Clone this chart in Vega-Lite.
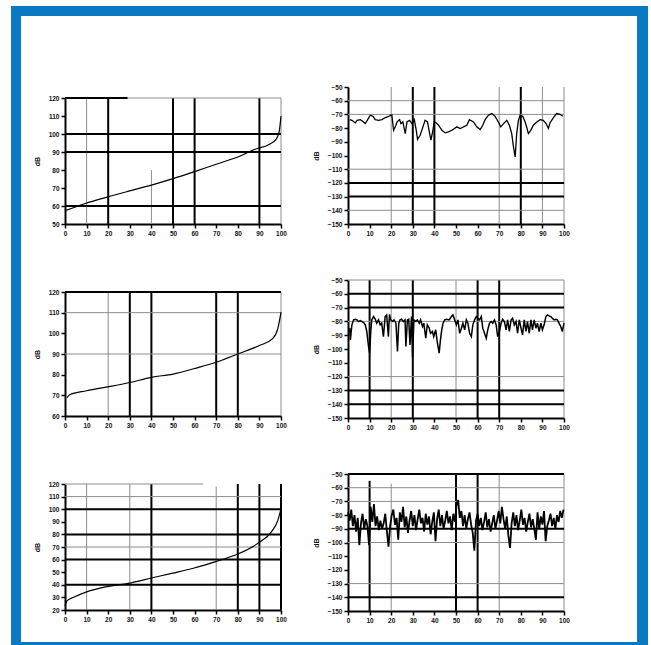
{
"$schema": "https://vega.github.io/schema/vega-lite/v6.json",
"background": "white",
"padding": {"left": 11, "top": 6, "right": 3, "bottom": 0},
"spacing": 0,
"hconcat": [
 {"width": 10, "height": 639, "data": {"values": []}, "mark": "rect", "view": {"fill": "#0a78c2", "stroke": null}},
 {"spacing": 0, "vconcat": [
  {"width": 616, "height": 10, "data": {"values": []}, "mark": "rect", "view": {"fill": "#0a78c2", "stroke": null}},
  {"spacing": 11, "hconcat": [
   {"width": 1, "height": 626, "data": {"values": []}, "mark": "rect"},
   {"spacing": 52, "vconcat": [
    {"width": 1, "height": 27, "data": {"values": []}, "mark": "rect"},
    {"width": 216, "height": 126,
     "encoding": {
      "x": {"field": "x", "type": "quantitative", "scale": {"domain": [0, 100], "nice": false, "zero": false}, "axis": {"values": [0,10,20,30,40,50,60,70,80,90,100], "title": null, "labelFlush": false, "labelOverlap": false}},
      "y": {"field": "y", "type": "quantitative", "scale": {"domain": [50, 120], "nice": false, "zero": false}, "axis": {"values": [50,60,70,80,90,100,110,120], "title": "dB", "labelOverlap": false}}
     },
     "layer": [
      {"data": {"values": [
        {"x": 10, "y": 50, "y2": 120, "kind": "minor"},
        {"x": 20, "y": 50, "y2": 120, "kind": "major"},
        {"x": 40, "y": 50, "y2": 80, "kind": "minor"},
        {"x": 50, "y": 50, "y2": 120, "kind": "major"},
        {"x": 60, "y": 50, "y2": 120, "kind": "major"},
        {"x": 90, "y": 50, "y2": 120, "kind": "major"},
        {"x": 100, "y": 50, "y2": 120, "kind": "minor"}]},
       "mark": "rule",
       "encoding": {"y2": {"field": "y2"},
        "color": {"field": "kind", "type": "nominal", "scale": {"domain": ["major", "minor"], "range": ["#000000", "#8c8c8c"]}, "legend": null},
        "strokeWidth": {"field": "kind", "type": "ordinal", "scale": {"domain": ["major", "minor"], "range": [2, 1]}, "legend": null}}},
      {"data": {"values": [
        {"y": 120, "x": 0, "x2": 29, "kind": "major"},
        {"y": 120, "x": 29, "x2": 100, "kind": "minor"},
        {"y": 100, "x": 0, "x2": 100, "kind": "major"},
        {"y": 90, "x": 0, "x2": 100, "kind": "major"},
        {"y": 60, "x": 0, "x2": 100, "kind": "major"}]},
       "mark": "rule",
       "encoding": {"x2": {"field": "x2"},
        "color": {"field": "kind", "type": "nominal", "scale": {"domain": ["major", "minor"], "range": ["#000000", "#8c8c8c"]}, "legend": null},
        "strokeWidth": {"field": "kind", "type": "ordinal", "scale": {"domain": ["major", "minor"], "range": [2, 1]}, "legend": null}}},
      {"data": {"values": [
        {"x": 0, "y": 57.4}, {"x": 9.4, "y": 61.4}, {"x": 19, "y": 64.8}, {"x": 29, "y": 68.1}, {"x": 40, "y": 71.6},
        {"x": 50, "y": 75.2}, {"x": 60, "y": 79.1}, {"x": 70, "y": 83.2}, {"x": 80, "y": 87.2}, {"x": 88, "y": 91.5},
        {"x": 94.5, "y": 94.2}, {"x": 97.7, "y": 97.0}, {"x": 99.2, "y": 101.6}, {"x": 100, "y": 109.9}]},
       "mark": {"type": "line", "color": "#000000", "strokeWidth": 1.2, "interpolate": "monotone"}}
     ]},
    {"width": 216, "height": 124,
     "encoding": {
      "x": {"field": "x", "type": "quantitative", "scale": {"domain": [0, 100], "nice": false, "zero": false}, "axis": {"values": [0,10,20,30,40,50,60,70,80,90,100], "title": null, "labelFlush": false, "labelOverlap": false}},
      "y": {"field": "y", "type": "quantitative", "scale": {"domain": [60, 120], "nice": false, "zero": false}, "axis": {"values": [60,70,80,90,100,110,120], "title": "dB", "labelOverlap": false}}
     },
     "layer": [
      {"data": {"values": [
        {"x": 20, "y": 60, "y2": 120, "kind": "minor"},
        {"x": 30, "y": 60, "y2": 120, "kind": "major"},
        {"x": 40, "y": 60, "y2": 120, "kind": "major"},
        {"x": 70, "y": 60, "y2": 120, "kind": "major"},
        {"x": 80, "y": 60, "y2": 120, "kind": "major"},
        {"x": 100, "y": 60, "y2": 120, "kind": "minor"}]},
       "mark": "rule",
       "encoding": {"y2": {"field": "y2"},
        "color": {"field": "kind", "type": "nominal", "scale": {"domain": ["major", "minor"], "range": ["#000000", "#8c8c8c"]}, "legend": null},
        "strokeWidth": {"field": "kind", "type": "ordinal", "scale": {"domain": ["major", "minor"], "range": [2, 1]}, "legend": null}}},
      {"data": {"values": [
        {"y": 120, "x": 0, "x2": 100, "kind": "major"},
        {"y": 110, "x": 0, "x2": 100, "kind": "minor"},
        {"y": 90, "x": 0, "x2": 100, "kind": "minor"}]},
       "mark": "rule",
       "encoding": {"x2": {"field": "x2"},
        "color": {"field": "kind", "type": "nominal", "scale": {"domain": ["major", "minor"], "range": ["#000000", "#8c8c8c"]}, "legend": null},
        "strokeWidth": {"field": "kind", "type": "ordinal", "scale": {"domain": ["major", "minor"], "range": [2, 1]}, "legend": null}}},
      {"data": {"values": [
        {"x": 1, "y": 68.9}, {"x": 2, "y": 70.2}, {"x": 10, "y": 72.2}, {"x": 21, "y": 74.3}, {"x": 30, "y": 76.2},
        {"x": 40, "y": 78.7}, {"x": 50, "y": 80.3}, {"x": 60, "y": 83.0}, {"x": 70, "y": 86.0}, {"x": 80, "y": 90.0},
        {"x": 90, "y": 94.1}, {"x": 96, "y": 97.3}, {"x": 98.5, "y": 102.2}, {"x": 100, "y": 110.3}]},
       "mark": {"type": "line", "color": "#000000", "strokeWidth": 1.2, "interpolate": "monotone"}}
     ]},
    {"width": 216, "height": 126,
     "encoding": {
      "x": {"field": "x", "type": "quantitative", "scale": {"domain": [0, 100], "nice": false, "zero": false}, "axis": {"values": [0,10,20,30,40,50,60,70,80,90,100], "title": null, "labelFlush": false, "labelOverlap": false}},
      "y": {"field": "y", "type": "quantitative", "scale": {"domain": [20, 120], "nice": false, "zero": false}, "axis": {"values": [20,30,40,50,60,70,80,90,100,110,120], "title": "dB", "labelOverlap": false}}
     },
     "layer": [
      {"data": {"values": [
        {"x": 10, "y": 20, "y2": 120, "kind": "minor"},
        {"x": 30, "y": 20, "y2": 120, "kind": "minor"},
        {"x": 40, "y": 20, "y2": 120, "kind": "major"},
        {"x": 70, "y": 20, "y2": 118, "kind": "minor"},
        {"x": 80, "y": 20, "y2": 120, "kind": "major"},
        {"x": 90, "y": 20, "y2": 120, "kind": "major"},
        {"x": 100, "y": 20, "y2": 120, "kind": "major"}]},
       "mark": "rule",
       "encoding": {"y2": {"field": "y2"},
        "color": {"field": "kind", "type": "nominal", "scale": {"domain": ["major", "minor"], "range": ["#000000", "#8c8c8c"]}, "legend": null},
        "strokeWidth": {"field": "kind", "type": "ordinal", "scale": {"domain": ["major", "minor"], "range": [2, 1]}, "legend": null}}},
      {"data": {"values": [
        {"y": 120, "x": 0, "x2": 64, "kind": "minor"},
        {"y": 110, "x": 0, "x2": 100, "kind": "minor"},
        {"y": 100, "x": 0, "x2": 100, "kind": "major"},
        {"y": 80, "x": 0, "x2": 100, "kind": "major"},
        {"y": 70, "x": 0, "x2": 100, "kind": "minor"},
        {"y": 60, "x": 0, "x2": 100, "kind": "major"},
        {"y": 40, "x": 0, "x2": 100, "kind": "major"}]},
       "mark": "rule",
       "encoding": {"x2": {"field": "x2"},
        "color": {"field": "kind", "type": "nominal", "scale": {"domain": ["major", "minor"], "range": ["#000000", "#8c8c8c"]}, "legend": null},
        "strokeWidth": {"field": "kind", "type": "ordinal", "scale": {"domain": ["major", "minor"], "range": [2, 1]}, "legend": null}}},
      {"data": {"values": [
        {"x": 0, "y": 23.4}, {"x": 1, "y": 27.4}, {"x": 4, "y": 30.1}, {"x": 9.4, "y": 34.0}, {"x": 19.3, "y": 38.5},
        {"x": 29.3, "y": 41.2}, {"x": 40, "y": 45.4}, {"x": 49.4, "y": 49.1}, {"x": 59.4, "y": 53.1}, {"x": 70.1, "y": 58.6},
        {"x": 80, "y": 64.4}, {"x": 90, "y": 73.7}, {"x": 95.4, "y": 81.6}, {"x": 98.5, "y": 90.9}, {"x": 100, "y": 100.2}]},
       "mark": {"type": "line", "color": "#000000", "strokeWidth": 1.2, "interpolate": "monotone"}}
     ]}
   ]},
   {"width": 3, "height": 10, "data": {"values": []}, "mark": "rect"},
   {"spacing": 40, "vconcat": [
    {"width": 1, "height": 28, "data": {"values": []}, "mark": "rect"},
    {"width": 216, "height": 137,
     "encoding": {
      "x": {"field": "x", "type": "quantitative", "scale": {"domain": [0, 100], "nice": false, "zero": false}, "axis": {"values": [0,10,20,30,40,50,60,70,80,90,100], "title": null, "labelFlush": false, "labelOverlap": false}},
      "y": {"field": "y", "type": "quantitative", "scale": {"domain": [-150, -50], "nice": false, "zero": false}, "axis": {"values": [-150,-140,-130,-120,-110,-100,-90,-80,-70,-60,-50], "title": "dB", "labelOverlap": false}}
     },
     "layer": [
      {"data": {"values": [
        {"x": 20, "y": -150, "y2": -50, "kind": "minor"},
        {"x": 30, "y": -150, "y2": -50, "kind": "major"},
        {"x": 40, "y": -150, "y2": -50, "kind": "major"},
        {"x": 70, "y": -150, "y2": -50, "kind": "minor"},
        {"x": 80, "y": -150, "y2": -50, "kind": "major"},
        {"x": 90, "y": -150, "y2": -50, "kind": "minor"},
        {"x": 100, "y": -150, "y2": -50, "kind": "minor"}]},
       "mark": "rule",
       "encoding": {"y2": {"field": "y2"},
        "color": {"field": "kind", "type": "nominal", "scale": {"domain": ["major", "minor"], "range": ["#000000", "#8c8c8c"]}, "legend": null},
        "strokeWidth": {"field": "kind", "type": "ordinal", "scale": {"domain": ["major", "minor"], "range": [2, 1]}, "legend": null}}},
      {"data": {"values": [
        {"y": -60, "x": 0, "x2": 100, "kind": "minor"},
        {"y": -70, "x": 0, "x2": 100, "kind": "minor"},
        {"y": -110, "x": 0, "x2": 100, "kind": "minor"},
        {"y": -120, "x": 0, "x2": 100, "kind": "major"},
        {"y": -130, "x": 0, "x2": 100, "kind": "major"},
        {"y": -140, "x": 0, "x2": 100, "kind": "minor"}]},
       "mark": "rule",
       "encoding": {"x2": {"field": "x2"},
        "color": {"field": "kind", "type": "nominal", "scale": {"domain": ["major", "minor"], "range": ["#000000", "#8c8c8c"]}, "legend": null},
        "strokeWidth": {"field": "kind", "type": "ordinal", "scale": {"domain": ["major", "minor"], "range": [2, 1]}, "legend": null}}},
      {"data": {"values": [
        {"x": 0.8, "y": -73.8}, {"x": 1.8, "y": -74.3}, {"x": 3.4, "y": -76.2}, {"x": 4.2, "y": -74.3}, {"x": 5.7, "y": -73.8},
        {"x": 7.2, "y": -75.5}, {"x": 8.0, "y": -76.7}, {"x": 9.1, "y": -73.8}, {"x": 10.3, "y": -70.6}, {"x": 11.6, "y": -71.4},
        {"x": 12.6, "y": -73.8}, {"x": 14.2, "y": -74.3}, {"x": 15.7, "y": -73.8}, {"x": 17.3, "y": -72.3}, {"x": 18.8, "y": -71.4},
        {"x": 20.3, "y": -70.4}, {"x": 21.1, "y": -81.6}, {"x": 21.9, "y": -79.1}, {"x": 22.7, "y": -75.5}, {"x": 23.9, "y": -73.8},
        {"x": 24.5, "y": -76.7}, {"x": 25.4, "y": -75.5}, {"x": 26.5, "y": -84.0}, {"x": 27.3, "y": -75.5}, {"x": 28.5, "y": -74.3},
        {"x": 29.6, "y": -76.7}, {"x": 30.7, "y": -73.8}, {"x": 31.6, "y": -81.6}, {"x": 32.2, "y": -88.3}, {"x": 33.4, "y": -85.2},
        {"x": 34.7, "y": -79.1}, {"x": 35.7, "y": -74.3}, {"x": 36.8, "y": -75.5}, {"x": 37.8, "y": -84.0}, {"x": 38.4, "y": -88.8},
        {"x": 39.3, "y": -81.6}, {"x": 39.9, "y": -75.5}, {"x": 40.8, "y": -76.2}, {"x": 41.9, "y": -77.9}, {"x": 43.5, "y": -81.6},
        {"x": 45.0, "y": -83.5}, {"x": 46.5, "y": -82.8}, {"x": 48.1, "y": -81.6}, {"x": 50.4, "y": -79.1}, {"x": 51.9, "y": -80.3},
        {"x": 53.5, "y": -79.1}, {"x": 55.0, "y": -77.9}, {"x": 56.2, "y": -73.8}, {"x": 58.1, "y": -75.5}, {"x": 59.6, "y": -79.1},
        {"x": 61.2, "y": -81.1}, {"x": 62.4, "y": -77.9}, {"x": 63.5, "y": -73.8}, {"x": 65.0, "y": -70.6}, {"x": 66.6, "y": -69.4},
        {"x": 68.1, "y": -71.4}, {"x": 69.6, "y": -75.5}, {"x": 70.7, "y": -79.1}, {"x": 72.0, "y": -76.7}, {"x": 73.5, "y": -74.3},
        {"x": 74.7, "y": -77.9}, {"x": 75.8, "y": -84.0}, {"x": 76.6, "y": -93.7}, {"x": 77.4, "y": -101.0}, {"x": 78.1, "y": -84.0},
        {"x": 78.9, "y": -74.3}, {"x": 79.7, "y": -70.6}, {"x": 80.9, "y": -71.4}, {"x": 82.0, "y": -75.5}, {"x": 82.7, "y": -79.1},
        {"x": 83.5, "y": -84.0}, {"x": 84.6, "y": -81.6}, {"x": 85.8, "y": -77.9}, {"x": 87.4, "y": -75.5}, {"x": 88.9, "y": -73.8},
        {"x": 90.4, "y": -74.3}, {"x": 91.7, "y": -76.7}, {"x": 92.8, "y": -80.3}, {"x": 93.5, "y": -76.2}, {"x": 95.1, "y": -72.3},
        {"x": 96.6, "y": -69.4}, {"x": 98.2, "y": -69.9}, {"x": 99.4, "y": -71.4}]},
       "mark": {"type": "line", "color": "#000000", "strokeWidth": 1.3}}
     ]},
    {"width": 216, "height": 138,
     "encoding": {
      "x": {"field": "x", "type": "quantitative", "scale": {"domain": [0, 100], "nice": false, "zero": false}, "axis": {"values": [0,10,20,30,40,50,60,70,80,90,100], "title": null, "labelFlush": false, "labelOverlap": false}},
      "y": {"field": "y", "type": "quantitative", "scale": {"domain": [-150, -50], "nice": false, "zero": false}, "axis": {"values": [-150,-140,-130,-120,-110,-100,-90,-80,-70,-60,-50], "title": "dB", "labelOverlap": false}}
     },
     "layer": [
      {"data": {"values": [
        {"x": 10, "y": -150, "y2": -50, "kind": "major"},
        {"x": 20, "y": -150, "y2": -50, "kind": "minor"},
        {"x": 30, "y": -150, "y2": -50, "kind": "major"},
        {"x": 50, "y": -150, "y2": -50, "kind": "minor"},
        {"x": 60, "y": -150, "y2": -50, "kind": "major"},
        {"x": 70, "y": -150, "y2": -50, "kind": "major"},
        {"x": 100, "y": -150, "y2": -50, "kind": "minor"}]},
       "mark": "rule",
       "encoding": {"y2": {"field": "y2"},
        "color": {"field": "kind", "type": "nominal", "scale": {"domain": ["major", "minor"], "range": ["#000000", "#8c8c8c"]}, "legend": null},
        "strokeWidth": {"field": "kind", "type": "ordinal", "scale": {"domain": ["major", "minor"], "range": [2, 1]}, "legend": null}}},
      {"data": {"values": [
        {"y": -50, "x": 0, "x2": 100, "kind": "minor"},
        {"y": -60, "x": 0, "x2": 100, "kind": "major"},
        {"y": -70, "x": 0, "x2": 100, "kind": "major"},
        {"y": -80, "x": 0, "x2": 100, "kind": "minor"},
        {"y": -120, "x": 0, "x2": 100, "kind": "minor"},
        {"y": -130, "x": 0, "x2": 100, "kind": "major"},
        {"y": -140, "x": 0, "x2": 100, "kind": "major"}]},
       "mark": "rule",
       "encoding": {"x2": {"field": "x2"},
        "color": {"field": "kind", "type": "nominal", "scale": {"domain": ["major", "minor"], "range": ["#000000", "#8c8c8c"]}, "legend": null},
        "strokeWidth": {"field": "kind", "type": "ordinal", "scale": {"domain": ["major", "minor"], "range": [2, 1]}, "legend": null}}},
      {"data": {"values": [
        {"x": 0.8, "y": -84.9}, {"x": 1.1, "y": -93.4}, {"x": 1.8, "y": -82.5}, {"x": 2.6, "y": -78.9}, {"x": 3.4, "y": -78.4},
        {"x": 4.1, "y": -78.9}, {"x": 4.9, "y": -80.1}, {"x": 5.7, "y": -79.4}, {"x": 7.2, "y": -80.8}, {"x": 8.0, "y": -82.5},
        {"x": 8.7, "y": -87.3}, {"x": 9.5, "y": -98.2}, {"x": 10.0, "y": -103.0}, {"x": 10.6, "y": -86.1}, {"x": 11.0, "y": -78.9},
        {"x": 11.8, "y": -76.5}, {"x": 12.6, "y": -78.4}, {"x": 13.3, "y": -81.3}, {"x": 14.1, "y": -78.9}, {"x": 14.9, "y": -82.5},
        {"x": 15.6, "y": -81.3}, {"x": 16.4, "y": -91.0}, {"x": 17.2, "y": -76.5}, {"x": 17.9, "y": -75.3}, {"x": 18.7, "y": -91.0},
        {"x": 19.2, "y": -75.0}, {"x": 19.8, "y": -78.9}, {"x": 20.7, "y": -80.1}, {"x": 21.3, "y": -78.9}, {"x": 22.2, "y": -81.3},
        {"x": 22.9, "y": -101.8}, {"x": 23.5, "y": -81.3}, {"x": 24.1, "y": -78.9}, {"x": 24.8, "y": -78.4}, {"x": 25.6, "y": -80.1},
        {"x": 26.4, "y": -78.9}, {"x": 26.8, "y": -98.2}, {"x": 27.5, "y": -78.9}, {"x": 28.1, "y": -78.4}, {"x": 28.7, "y": -97.0},
        {"x": 29.4, "y": -76.5}, {"x": 29.9, "y": -105.9}, {"x": 30.5, "y": -78.9}, {"x": 31.4, "y": -80.1}, {"x": 32.1, "y": -78.9},
        {"x": 33.0, "y": -81.3}, {"x": 33.6, "y": -78.9}, {"x": 34.5, "y": -83.7}, {"x": 35.1, "y": -81.3}, {"x": 36.0, "y": -92.2},
        {"x": 36.7, "y": -82.5}, {"x": 37.6, "y": -84.9}, {"x": 38.2, "y": -88.6}, {"x": 39.1, "y": -87.3}, {"x": 39.7, "y": -91.0},
        {"x": 40.6, "y": -86.1}, {"x": 41.3, "y": -94.6}, {"x": 42.2, "y": -103.0}, {"x": 42.8, "y": -93.4}, {"x": 43.4, "y": -86.1},
        {"x": 44.0, "y": -81.3}, {"x": 44.8, "y": -78.9}, {"x": 45.6, "y": -78.4}, {"x": 46.8, "y": -78.9}, {"x": 47.9, "y": -76.5},
        {"x": 48.6, "y": -75.3}, {"x": 49.4, "y": -78.9}, {"x": 50.2, "y": -82.5}, {"x": 50.9, "y": -78.9}, {"x": 51.7, "y": -88.6},
        {"x": 52.5, "y": -84.9}, {"x": 53.2, "y": -81.3}, {"x": 54.0, "y": -86.1}, {"x": 54.8, "y": -78.9}, {"x": 55.5, "y": -81.3},
        {"x": 56.3, "y": -88.6}, {"x": 57.1, "y": -91.0}, {"x": 57.8, "y": -82.5}, {"x": 58.6, "y": -78.9}, {"x": 59.4, "y": -76.5},
        {"x": 60.1, "y": -77.7}, {"x": 60.9, "y": -78.9}, {"x": 61.7, "y": -76.5}, {"x": 62.4, "y": -84.9}, {"x": 63.2, "y": -88.6},
        {"x": 64.0, "y": -92.2}, {"x": 64.7, "y": -86.1}, {"x": 65.5, "y": -81.3}, {"x": 66.3, "y": -80.1}, {"x": 67.0, "y": -81.3},
        {"x": 67.8, "y": -78.9}, {"x": 68.6, "y": -82.5}, {"x": 69.3, "y": -91.0}, {"x": 70.1, "y": -87.3}, {"x": 70.9, "y": -81.3},
        {"x": 71.6, "y": -78.4}, {"x": 72.4, "y": -80.1}, {"x": 73.2, "y": -86.1}, {"x": 73.9, "y": -78.9}, {"x": 74.7, "y": -87.3},
        {"x": 75.5, "y": -78.9}, {"x": 76.2, "y": -77.7}, {"x": 77.0, "y": -82.5}, {"x": 77.8, "y": -80.1}, {"x": 78.5, "y": -88.6},
        {"x": 79.3, "y": -78.9}, {"x": 80.1, "y": -84.9}, {"x": 80.8, "y": -89.8}, {"x": 81.6, "y": -78.9}, {"x": 82.4, "y": -87.3},
        {"x": 83.1, "y": -80.1}, {"x": 83.9, "y": -88.6}, {"x": 84.7, "y": -78.9}, {"x": 85.4, "y": -86.1}, {"x": 86.2, "y": -78.9},
        {"x": 87.0, "y": -84.9}, {"x": 87.7, "y": -81.3}, {"x": 88.5, "y": -87.3}, {"x": 89.3, "y": -81.3}, {"x": 90.0, "y": -86.1},
        {"x": 90.8, "y": -82.5}, {"x": 91.6, "y": -76.5}, {"x": 92.3, "y": -75.3}, {"x": 93.1, "y": -76.0}, {"x": 93.9, "y": -76.5},
        {"x": 94.6, "y": -77.7}, {"x": 95.4, "y": -78.9}, {"x": 96.2, "y": -78.4}, {"x": 96.9, "y": -78.9}, {"x": 97.7, "y": -81.3},
        {"x": 98.5, "y": -83.7}, {"x": 99.2, "y": -87.3}, {"x": 100, "y": -81.3}]},
       "mark": {"type": "line", "color": "#000000", "strokeWidth": 1.5}}
     ]},
    {"width": 216, "height": 137,
     "encoding": {
      "x": {"field": "x", "type": "quantitative", "scale": {"domain": [0, 100], "nice": false, "zero": false}, "axis": {"values": [0,10,20,30,40,50,60,70,80,90,100], "title": null, "labelFlush": false, "labelOverlap": false}},
      "y": {"field": "y", "type": "quantitative", "scale": {"domain": [-150, -50], "nice": false, "zero": false}, "axis": {"values": [-150,-140,-130,-120,-110,-100,-90,-80,-70,-60,-50], "title": "dB", "labelOverlap": false}}
     },
     "layer": [
      {"data": {"values": [
        {"x": 10, "y": -150, "y2": -55, "kind": "major"},
        {"x": 20, "y": -150, "y2": -57, "kind": "minor"},
        {"x": 50, "y": -150, "y2": -50, "kind": "major"},
        {"x": 60, "y": -150, "y2": -50, "kind": "major"},
        {"x": 70, "y": -150, "y2": -50, "kind": "minor"},
        {"x": 100, "y": -150, "y2": -50, "kind": "minor"}]},
       "mark": "rule",
       "encoding": {"y2": {"field": "y2"},
        "color": {"field": "kind", "type": "nominal", "scale": {"domain": ["major", "minor"], "range": ["#000000", "#8c8c8c"]}, "legend": null},
        "strokeWidth": {"field": "kind", "type": "ordinal", "scale": {"domain": ["major", "minor"], "range": [2, 1]}, "legend": null}}},
      {"data": {"values": [
        {"y": -50, "x": 0, "x2": 100, "kind": "major"},
        {"y": -60, "x": 0, "x2": 100, "kind": "minor"},
        {"y": -70, "x": 0, "x2": 100, "kind": "minor"},
        {"y": -90, "x": 0, "x2": 100, "kind": "major"},
        {"y": -100, "x": 0, "x2": 100, "kind": "minor"},
        {"y": -130, "x": 0, "x2": 100, "kind": "minor"},
        {"y": -140, "x": 0, "x2": 100, "kind": "major"}]},
       "mark": "rule",
       "encoding": {"x2": {"field": "x2"},
        "color": {"field": "kind", "type": "nominal", "scale": {"domain": ["major", "minor"], "range": ["#000000", "#8c8c8c"]}, "legend": null},
        "strokeWidth": {"field": "kind", "type": "ordinal", "scale": {"domain": ["major", "minor"], "range": [2, 1]}, "legend": null}}},
      {"data": {"values": [
        {"x": 0, "y": -78}, {"x": 0.75, "y": -84}, {"x": 1.5, "y": -76}, {"x": 2.25, "y": -88}, {"x": 3, "y": -80},
        {"x": 3.75, "y": -92}, {"x": 4.5, "y": -82}, {"x": 5.25, "y": -102}, {"x": 6, "y": -86}, {"x": 6.75, "y": -79},
        {"x": 7.5, "y": -90}, {"x": 8.25, "y": -83}, {"x": 9, "y": -88}, {"x": 9.75, "y": -102}, {"x": 10.5, "y": -74},
        {"x": 11.25, "y": -85}, {"x": 12, "y": -72}, {"x": 12.75, "y": -88}, {"x": 13.5, "y": -81}, {"x": 14.25, "y": -91},
        {"x": 15, "y": -84}, {"x": 15.75, "y": -90}, {"x": 16.5, "y": -86}, {"x": 17.25, "y": -79}, {"x": 18, "y": -92},
        {"x": 18.75, "y": -103}, {"x": 19.5, "y": -88}, {"x": 20.25, "y": -80}, {"x": 21, "y": -76}, {"x": 21.75, "y": -87},
        {"x": 22.5, "y": -82}, {"x": 23.25, "y": -98}, {"x": 24, "y": -78}, {"x": 24.75, "y": -85}, {"x": 25.5, "y": -74},
        {"x": 26.25, "y": -89}, {"x": 27, "y": -81}, {"x": 27.75, "y": -93}, {"x": 28.5, "y": -84}, {"x": 29.25, "y": -77},
        {"x": 30, "y": -88}, {"x": 30.75, "y": -80}, {"x": 31.5, "y": -91}, {"x": 32.25, "y": -83}, {"x": 33, "y": -76},
        {"x": 33.75, "y": -86}, {"x": 34.5, "y": -82}, {"x": 35.25, "y": -92}, {"x": 36, "y": -79}, {"x": 36.75, "y": -87},
        {"x": 37.5, "y": -81}, {"x": 38.25, "y": -94}, {"x": 39, "y": -85}, {"x": 39.75, "y": -78}, {"x": 40.5, "y": -99},
        {"x": 41.25, "y": -83}, {"x": 42, "y": -76}, {"x": 42.75, "y": -88}, {"x": 43.5, "y": -80}, {"x": 44.25, "y": -90},
        {"x": 45, "y": -84}, {"x": 45.75, "y": -77}, {"x": 46.5, "y": -86}, {"x": 47.25, "y": -81}, {"x": 48, "y": -91},
        {"x": 48.75, "y": -79}, {"x": 49.5, "y": -85}, {"x": 50.25, "y": -73}, {"x": 51, "y": -69}, {"x": 51.75, "y": -82},
        {"x": 52.5, "y": -77}, {"x": 53.25, "y": -88}, {"x": 54, "y": -80}, {"x": 54.75, "y": -90}, {"x": 55.5, "y": -83},
        {"x": 56.25, "y": -78}, {"x": 57, "y": -87}, {"x": 57.75, "y": -93}, {"x": 58.5, "y": -106}, {"x": 59.25, "y": -84},
        {"x": 60, "y": -79}, {"x": 60.75, "y": -88}, {"x": 61.5, "y": -82}, {"x": 62.25, "y": -91}, {"x": 63, "y": -85},
        {"x": 63.75, "y": -78}, {"x": 64.5, "y": -89}, {"x": 65.25, "y": -83}, {"x": 66, "y": -92}, {"x": 66.75, "y": -86},
        {"x": 67.5, "y": -80}, {"x": 68.25, "y": -90}, {"x": 69, "y": -84}, {"x": 69.75, "y": -77}, {"x": 70.5, "y": -86},
        {"x": 71.25, "y": -74}, {"x": 72, "y": -83}, {"x": 72.75, "y": -90}, {"x": 73.5, "y": -81}, {"x": 74.25, "y": -95},
        {"x": 75, "y": -104}, {"x": 75.75, "y": -86}, {"x": 76.5, "y": -78}, {"x": 77.25, "y": -88}, {"x": 78, "y": -80},
        {"x": 78.75, "y": -91}, {"x": 79.5, "y": -84}, {"x": 80.25, "y": -76}, {"x": 81, "y": -87}, {"x": 81.75, "y": -82},
        {"x": 82.5, "y": -92}, {"x": 83.25, "y": -85}, {"x": 84, "y": -79}, {"x": 84.75, "y": -89}, {"x": 85.5, "y": -83},
        {"x": 86.25, "y": -90}, {"x": 87, "y": -98}, {"x": 87.75, "y": -78}, {"x": 88.5, "y": -90}, {"x": 89.25, "y": -81},
        {"x": 90, "y": -87}, {"x": 90.75, "y": -77}, {"x": 91.5, "y": -99}, {"x": 92.25, "y": -88}, {"x": 93, "y": -84},
        {"x": 93.75, "y": -79}, {"x": 94.5, "y": -88}, {"x": 95.25, "y": -82}, {"x": 96, "y": -90}, {"x": 96.75, "y": -80},
        {"x": 97.5, "y": -85}, {"x": 98.25, "y": -77}, {"x": 99, "y": -82}, {"x": 99.75, "y": -76}]},
       "mark": {"type": "line", "color": "#000000", "strokeWidth": 1.8}}
     ]}
   ]}
  ]},
  {"width": 616, "height": 3, "data": {"values": []}, "mark": "rect", "view": {"fill": "#0a78c2", "stroke": null}}
 ]},
 {"width": 11, "height": 639, "data": {"values": []}, "mark": "rect", "view": {"fill": "#0a78c2", "stroke": null}}
],
"config": {
 "view": {"stroke": null},
 "axis": {"grid": false, "labelFont": "Liberation Sans", "labelFontSize": 6.5, "labelFontWeight": "bold", "labelColor": "#111111",
  "domainColor": "#000000", "domainWidth": 2, "tickColor": "#000000", "tickSize": 4, "tickWidth": 1.5, "labelPadding": 2,
  "titleFont": "Liberation Sans", "titleFontSize": 7, "titleFontWeight": "bold", "titleColor": "#111111", "titlePadding": 8}
}
}
